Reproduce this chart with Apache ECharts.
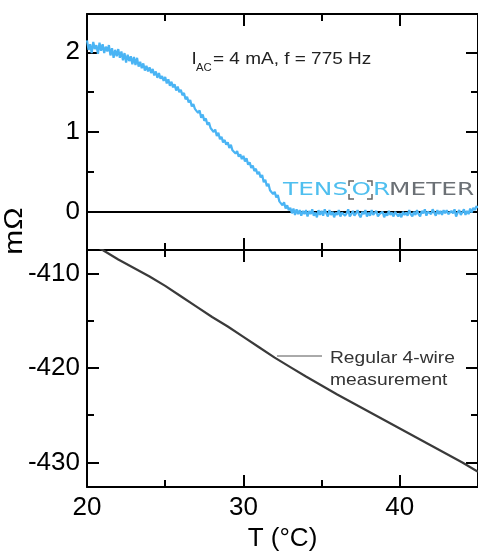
<!DOCTYPE html>
<html>
<head>
<meta charset="utf-8">
<script src="https://cdn.jsdelivr.net/npm/echarts@6/dist/echarts.min.js"></script>
<style>
  html, body { margin: 0; padding: 0; background: #fff; }
  #chart { width: 478px; height: 553px; }
</style>
</head>
<body>
<div id="chart"></div>
<script>
// tensormeter signal, sampled every 0.1 degC from 20 degC
const tensorStart = 20;
const tensorStep = 0.1;
const tensorValues = [
  2.15, 2.03, 2.10, 1.99, 2.13, 2.04, 2.09, 1.98, 2.12, 2.02,
  2.10, 1.99, 2.07, 2.01, 2.09, 1.96, 2.05, 1.93, 2.03, 1.95,
  2.04, 1.93, 2.01, 1.90, 1.99, 1.87, 1.97, 1.89, 1.95, 1.85,
  1.94, 1.84, 1.93, 1.82, 1.88, 1.80, 1.86, 1.77, 1.83, 1.76,
  1.81, 1.74, 1.79, 1.71, 1.76, 1.68, 1.74, 1.67, 1.70, 1.64,
  1.69, 1.61, 1.66, 1.58, 1.63, 1.56, 1.60, 1.52, 1.57, 1.50,
  1.53, 1.46, 1.49, 1.41, 1.44, 1.37, 1.40, 1.32, 1.35, 1.29,
  1.31, 1.24, 1.27, 1.18, 1.22, 1.14, 1.17, 1.09, 1.12, 1.05,
  1.07, 1.00, 1.03, 0.95, 0.99, 0.91, 0.94, 0.87, 0.90, 0.84,
  0.87, 0.80, 0.84, 0.77, 0.79, 0.73, 0.76, 0.69, 0.72, 0.66,
  0.70, 0.63, 0.67, 0.59, 0.62, 0.55, 0.58, 0.51, 0.54, 0.47,
  0.50, 0.43, 0.46, 0.37, 0.40, 0.32, 0.35, 0.27, 0.29, 0.22,
  0.25, 0.18, 0.21, 0.13, 0.15, 0.08, 0.12, 0.04, 0.08, 0.02,
  0.05, -0.02, 0.04, -0.04, 0.03, -0.03, 0.02, -0.05, 0.01, -0.03,
  0.02, -0.06, 0.01, -0.03, 0.03, -0.05, -0.01, -0.07, 0.02, -0.04,
  0.01, -0.05, 0.03, -0.02, -0.06, 0.02, -0.04, 0.00, -0.07, -0.01,
  -0.04, 0.02, -0.06, -0.01, 0.01, -0.05, -0.02, 0.03, -0.06, -0.03,
  0.01, -0.05, -0.02, 0.02, -0.04, -0.07, 0.00, -0.03, 0.02, -0.06,
  -0.01, -0.05, 0.02, -0.04, -0.02, 0.01, -0.06, -0.03, -0.05, 0.00,
  -0.07, -0.02, -0.05, 0.01, -0.04, -0.01, -0.06, 0.00, -0.03, -0.06,
  -0.02, -0.07, 0.00, -0.04, -0.01, -0.05, 0.02, -0.03, -0.06, 0.00,
  -0.04, 0.02, -0.03, -0.06, 0.01, -0.02, 0.03, -0.05, 0.00, 0.02,
  -0.03, 0.03, -0.01, -0.05, 0.02, -0.03, 0.01, -0.04, 0.02, -0.02,
  0.02, -0.03, -0.05, 0.01, -0.02, 0.03, -0.06, -0.01, 0.02, -0.04,
  -0.02, 0.03, -0.04, 0.01, -0.03, 0.04, -0.01, 0.05, 0.02, 0.07,
  0.05
];

// regular 4-wire measurement
const wireTemps = [20, 21, 22, 23, 24, 25, 26, 27, 28, 29, 30, 31, 32, 33, 34, 35, 36, 37, 38, 39, 40, 41, 42, 43, 44, 45];
const wireValues = [-406.5, -407.5, -408.5, -409.4, -410.3, -411.3, -412.4, -413.5, -414.6, -415.6, -416.7, -417.8, -418.9,
  -419.9, -420.9, -421.85, -422.8, -423.7, -424.6, -425.5, -426.4, -427.3, -428.2, -429.1, -430.0, -431.0];

const xMajor = [20, 30, 40];
const xMinor = [25, 35];
const topMajor = [0, 1, 2];
const topMinor = [0.5, 1.5];
const bottomMajor = [-410, -420, -430];
const bottomMinor = [-415, -425];

const FONT = 'Liberation Sans';
const LOGO_FONT = 'DejaVu Sans';
const LOGO_BLUE = '#4fbfef';
const LOGO_GRAY = '#6b7075';

const tensorData = tensorValues.map((v, i) => [+(tensorStart + i * tensorStep).toFixed(1), v]);
const wireData = wireTemps.map((t, i) => [t, wireValues[i]]);

function makeAxis(gridIndex, position, min, max, ticks, len, withLine, withLabels) {
    return {
        type: 'value',
        gridIndex: gridIndex,
        position: position,
        min: min,
        max: max,
        axisLine: { show: withLine, onZero: false, lineStyle: { color: '#000', width: 2 } },
        axisTick: { show: true, inside: true, length: len, customValues: ticks, lineStyle: { color: '#000', width: 2 } },
        axisLabel: {
            show: withLabels, customValues: ticks, fontSize: 26, color: '#000',
            fontFamily: FONT, margin: position === 'bottom' ? 8 : 7
        },
        splitLine: { show: false }
    };
}

function note(x, y, text, size, sx) {
    return {
        type: 'text', x: x, y: y, scaleX: sx,
        style: { text: text, fontSize: size, fontFamily: FONT, fill: '#222', textVerticalAlign: 'middle' }
    };
}

function logoText(x, text, color) {
    return {
        type: 'text', x: x, y: 190, scaleX: 1.38,
        style: { text: text, fontSize: 18, fontFamily: LOGO_FONT, fill: color, textVerticalAlign: 'middle' }
    };
}

function bracket(points) {
    return { type: 'polyline', shape: { points: points }, style: { stroke: '#666', fill: null, lineWidth: 1.5 } };
}

const chart = echarts.init(document.getElementById('chart'));

const option = {
    animation: false,
    backgroundColor: '#fff',
    grid: [
        { left: 87, top: 14, width: 393, height: 236 },
        { left: 87, top: 250, width: 393, height: 237 }
    ],
    xAxis: [
        makeAxis(0, 'bottom', 20, 45, xMajor, 12, true, false),
        makeAxis(0, 'bottom', 20, 45, xMinor, 7, false, false),
        makeAxis(0, 'top', 20, 45, xMajor, 12, true, false),
        makeAxis(0, 'top', 20, 45, xMinor, 7, false, false),
        makeAxis(1, 'top', 20, 45, xMajor, 12, true, false),
        makeAxis(1, 'top', 20, 45, xMinor, 7, false, false),
        Object.assign(makeAxis(1, 'bottom', 20, 45, xMajor, 12, true, true), {
            name: 'T (°C)', nameLocation: 'middle', nameGap: 39,
            nameTextStyle: { fontSize: 26, color: '#000', fontFamily: FONT }
        }),
        makeAxis(1, 'bottom', 20, 45, xMinor, 7, false, false)
    ],
    yAxis: [
        makeAxis(0, 'left', -0.48, 2.48, topMajor, 12, true, true),
        makeAxis(0, 'left', -0.48, 2.48, topMinor, 7, false, false),
        makeAxis(0, 'right', -0.48, 2.48, topMajor, 12, true, false),
        makeAxis(0, 'right', -0.48, 2.48, topMinor, 7, false, false),
        makeAxis(1, 'left', -432.6, -407.5, bottomMajor, 12, true, true),
        makeAxis(1, 'left', -432.6, -407.5, bottomMinor, 7, false, false),
        makeAxis(1, 'right', -432.6, -407.5, bottomMajor, 12, true, false),
        makeAxis(1, 'right', -432.6, -407.5, bottomMinor, 7, false, false)
    ],
    series: [
        {
            type: 'line',
            xAxisIndex: 0,
            yAxisIndex: 0,
            data: tensorData,
            showSymbol: false,
            z: 3,
            lineStyle: { color: '#4ab4f4', width: 2.2 },
            markLine: {
                silent: true,
                symbol: 'none',
                z: 1,
                label: { show: false },
                lineStyle: { color: '#000', width: 2, type: 'solid' },
                data: [{ yAxis: 0 }]
            }
        },
        {
            type: 'line',
            xAxisIndex: 6,
            yAxisIndex: 4,
            data: wireData,
            showSymbol: false,
            lineStyle: { color: '#3a3a3a', width: 2.2 }
        }
    ],
    graphic: [
        {
            type: 'text', x: 15, y: 231, rotation: Math.PI / 2, scaleX: 1.15,
            style: { text: 'mΩ', fontSize: 26, fontFamily: FONT, fill: '#000', textAlign: 'center', textVerticalAlign: 'middle' }
        },
        note(191.5, 59, 'I', 16.5, 1.15),
        note(196, 68, 'AC', 10, 1.13),
        note(213, 59, '= 4 mA, f = 775 Hz', 16.5, 1.15),
        {
            type: 'line',
            shape: { x1: 277, y1: 356, x2: 322, y2: 356 },
            style: { stroke: '#555', lineWidth: 1 }
        },
        {
            type: 'text', x: 330, y: 347, scaleX: 1.13,
            style: {
                text: 'Regular 4-wire\nmeasurement', fontSize: 17, lineHeight: 22, fontFamily: FONT,
                fill: '#333', textVerticalAlign: 'top'
            }
        },
        logoText(283, 'TENS', LOGO_BLUE),
        logoText(351.5, 'O', LOGO_BLUE),
        logoText(373, 'R', LOGO_BLUE),
        logoText(389, 'METER', LOGO_GRAY),
        bracket([[349, 186], [349, 181], [354, 181]]),
        bracket([[367, 181], [372, 181], [372, 186]]),
        bracket([[349, 194], [349, 199], [354, 199]]),
        bracket([[367, 199], [372, 199], [372, 194]])
    ]
};

chart.setOption(option);
</script>
</body>
</html>
